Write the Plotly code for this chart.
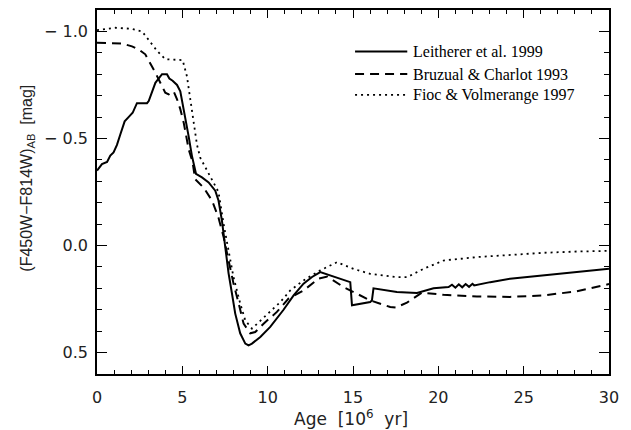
import plotly.graph_objects as go

# Model colour evolution, (F450W-F814W)_AB versus age in Myr
age_leitherer = [0, 0.29, 0.59, 0.78, 0.97, 1.17, 1.37, 1.62, 1.85, 2.09, 2.34, 2.93, 3.03,
                 3.22, 3.42, 3.61, 3.81, 4.10, 4.24, 4.43, 4.69, 4.88, 5.08, 5.37, 5.56,
                 5.8, 6.15, 6.54, 6.93, 7.12, 7.32, 7.52, 7.71, 7.91, 8.10, 8.39, 8.69,
                 8.88, 9.08, 9.57, 10.15, 10.93, 11.52, 12.1, 12.6, 13.08, 14.84, 14.94,
                 16.01, 16.11, 16.2, 17.57, 18.75, 19.72, 20.6, 20.8, 21.0, 21.2, 21.4,
                 21.6, 21.8, 22.0, 22.1, 23.04, 24.2, 30]
col_leitherer = [-0.35, -0.38, -0.39, -0.42, -0.435, -0.47, -0.52, -0.58, -0.60, -0.62,
                 -0.665, -0.665, -0.675, -0.72, -0.76, -0.78, -0.80, -0.80, -0.78, -0.77,
                 -0.75, -0.72, -0.64, -0.51, -0.42, -0.335, -0.318, -0.295, -0.256, -0.21,
                 -0.116, 0.008, 0.13, 0.225, 0.318, 0.41, 0.458, 0.466, 0.458, 0.427, 0.38,
                 0.30, 0.233, 0.178, 0.147, 0.124, 0.171, 0.279, 0.264, 0.256, 0.20, 0.217,
                 0.222, 0.20, 0.194, 0.183, 0.197, 0.181, 0.195, 0.180, 0.193, 0.179, 0.186,
                 0.171, 0.155, 0.108]

age_bruzual = [0, 1.46, 2.05, 2.44, 2.83, 3.12, 3.42, 3.71, 4.0, 4.2, 4.49, 4.69, 4.88,
               5.08, 5.37, 5.6, 5.75, 6.25, 6.74, 7.12, 7.42, 7.71, 8.0, 8.3, 8.59, 8.98,
               9.27, 9.76, 10.54, 11.22, 12.1, 12.98, 13.5, 14.45, 15.23, 16.0, 17.18,
               17.5, 18.16, 19.04, 20.3, 22.26, 24.2, 26.16, 28.1, 30]
col_bruzual = [-0.947, -0.944, -0.93, -0.916, -0.893, -0.854, -0.807, -0.76, -0.714,
               -0.706, -0.72, -0.683, -0.637, -0.574, -0.45, -0.39, -0.31, -0.27, -0.21,
               -0.13, -0.04, 0.07, 0.178, 0.27, 0.365, 0.41, 0.404, 0.365, 0.31, 0.248,
               0.21, 0.155, 0.145, 0.194, 0.225, 0.256, 0.287, 0.29, 0.267, 0.22, 0.23,
               0.238, 0.24, 0.233, 0.214, 0.18]

age_fioc = [0, 1.07, 2.05, 2.64, 3.03, 3.51, 4.0, 4.59, 5.02, 5.27, 5.56, 5.7, 5.86, 6.05,
            6.44, 6.83, 7.12, 7.42, 7.71, 8.0, 8.39, 8.69, 9.08, 9.57, 10.15, 10.74, 11.32,
            12.1, 13.08, 14.06, 15.03, 16.0, 17.57, 18.16, 19.13, 20.3, 22.26, 24.2, 26.16,
            28.1, 30]
col_fioc = [-1.006, -1.017, -1.012, -1.0, -0.96, -0.91, -0.87, -0.866, -0.866, -0.79,
            -0.64, -0.56, -0.47, -0.41, -0.35, -0.295, -0.25, -0.10, 0.023, 0.148, 0.27,
            0.35, 0.388, 0.35, 0.305, 0.264, 0.21, 0.163, 0.116, 0.078, 0.109, 0.132,
            0.148, 0.148, 0.109, 0.07, 0.054, 0.043, 0.034, 0.028, 0.025]

x_ticks = [0, 5, 10, 15, 20, 25, 30]
y_ticks = [-1.0, -0.5, 0.0, 0.5]
y_ticktext = ["\u2212 1.0", "\u2212 0.5", "0.0", "0.5"]

series = [
    ("Leitherer et al. 1999", age_leitherer, col_leitherer, "solid", 2.0),
    ("Bruzual & Charlot 1993", age_bruzual, col_bruzual, "9px,6px", 2.0),
    ("Fioc & Volmerange 1997", age_fioc, col_fioc, "2px,4px", 1.8),
]

fig = go.Figure()
for name, xs, ys, dash, w in series:
    fig.add_trace(go.Scatter(x=xs, y=ys, mode="lines", name=name, showlegend=False,
                             line=dict(color="black", width=w, dash=dash)))

# hand-drawn key in the upper right corner of the frame
row_y = [0.886, 0.824, 0.767]
for (name, _, _, dash, w), yy in zip(series, row_y):
    fig.add_shape(type="line", xref="paper", yref="paper", x0=0.504, x1=0.606,
                  y0=yy, y1=yy, line=dict(color="black", width=w, dash=dash))
    fig.add_annotation(xref="paper", yref="paper", x=0.614, y=yy, text=name,
                       showarrow=False, xanchor="left", yanchor="middle",
                       font=dict(family="Liberation Serif", size=16, color="black"))

axis_font = dict(family="DejaVu Sans", size=16, color="#222")
fig.update_xaxes(range=[0, 30], tickvals=x_ticks, ticks="inside", ticklen=8,
                 tickwidth=1, tickcolor="black", showline=True, linecolor="black",
                 linewidth=1.5, mirror="allticks", showgrid=False, zeroline=False,
                 tickfont=axis_font, ticklabelstandoff=8,
                 minor=dict(dtick=1, ticks="inside", ticklen=4, tickcolor="black",
                            showgrid=False))
fig.update_yaxes(range=[0.6, -1.1], tickvals=y_ticks, ticktext=y_ticktext,
                 ticks="inside", ticklen=10, tickwidth=1, tickcolor="black",
                 showline=True, linecolor="black", linewidth=1.5, mirror="allticks",
                 showgrid=False, zeroline=False, tickfont=axis_font,
                 ticklabelstandoff=4,
                 minor=dict(dtick=0.1, tick0=0, ticks="inside", ticklen=5,
                            tickcolor="black", showgrid=False))

fig.add_annotation(xref="paper", yref="paper", x=-0.135, y=0.539,
                   text="(F450W\u2212F814W)<sub>AB</sub>\u00a0 [mag]", textangle=-90,
                   showarrow=False, xanchor="center", yanchor="middle",
                   font=dict(family="Liberation Sans", size=16, color="#222"))
fig.add_annotation(xref="paper", yref="paper", x=0.496, y=-0.085,
                   text="Age\u00a0 [10<sup>6</sup>\u00a0 yr]", showarrow=False,
                   xanchor="center", yanchor="top",
                   font=dict(family="DejaVu Sans", size=17, color="#222"))

fig.update_layout(width=631, height=430, margin=dict(l=97, r=22, t=8, b=56),
                  plot_bgcolor="white", paper_bgcolor="white")
fig.write_html("out.html")
